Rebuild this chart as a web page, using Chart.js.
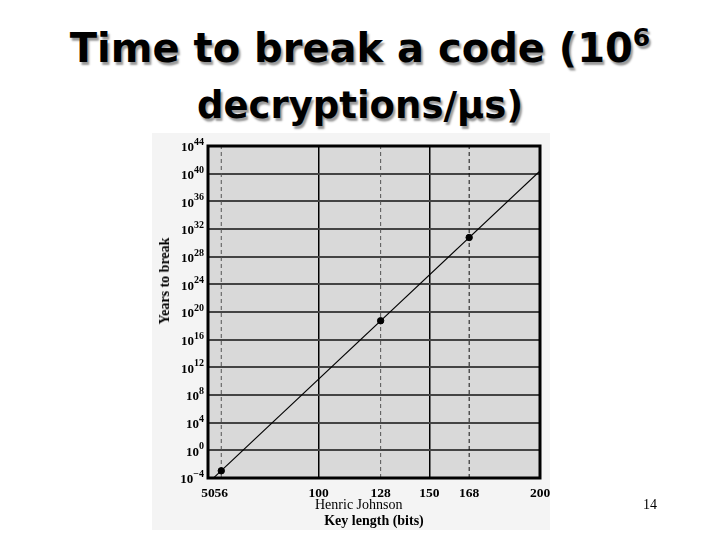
<!DOCTYPE html>
<html>
<head>
<meta charset="utf-8">
<script src="https://cdn.jsdelivr.net/npm/chart.js@4"></script>
<style>
  html, body { margin:0; padding:0; background:#ffffff; width:720px; height:540px; overflow:hidden; position:relative; }
  #title { position:absolute; left:0; top:20px; width:720px; text-align:center;
           font-family:"DejaVu Sans", sans-serif; font-weight:bold; font-size:40px; line-height:56px;
           color:#000; text-shadow:2px 3px 2px #999; }
  #title .l2 { font-size:37px; }
  #title sup { font-size:25px; position:relative; top:-2px; vertical-align:top; line-height:40px; }
  #panel { position:absolute; left:152px; top:133px; width:398px; height:397px; background:#f4f4f4; }
  #ytitle { position:absolute; left:165px; top:281px; transform:translate(-50%,-50%) rotate(-90deg);
            white-space:nowrap; font-family:"Liberation Serif", serif; font-weight:bold; font-size:14px; color:#000; }
  #author { position:absolute; left:315px; top:497px; font-family:"Liberation Serif", serif; font-size:14px; color:#000; }
  #page { position:absolute; left:643px; top:497px; font-family:"Liberation Serif", serif; font-size:14px; color:#000; }
</style>
</head>
<body>
<div id="title">Time to break a code (10<sup>6</sup><br><span class="l2">decryptions/µs)</span></div>
<div id="panel"><canvas id="c" width="398" height="397"></canvas></div>
<div id="ytitle">Years to break</div>
<div id="author">Henric Johnson</div>
<div id="page">14</div>
<script>
// ---- data ----
const keyLengths   = [56, 128, 168];            // marked key lengths (bits)
const yearsToBreak = [1.1e-3, 5.4e18, 5.9e30];  // years to break at 10^6 decryptions/µs
const lineBits     = [50, 200];                 // trend line end key lengths
const lineYears    = [1.8e-5, 2.5e40];          // trend line end values
const xTickValues  = [50, 56, 100, 128, 150, 168, 200];
const solidGridBits = [50, 100, 150, 200];
const yTickExponents = [-4, 0, 4, 8, 12, 16, 20, 24, 28, 32, 36, 40, 44];
const xTitle = "Key length (bits)";

const yMin = Math.pow(10, yTickExponents[0]);
const yMax = Math.pow(10, yTickExponents[yTickExponents.length - 1]);

const dashedDatasets = keyLengths.map((k, i) => ({
  type: 'line',
  data: [{x:k, y:yMin}, {x:k, y:yMax}],
  borderColor: i === 2 ? '#111' : '#555',
  borderWidth: 1,
  borderDash: [4, 3],
  pointRadius: 0,
  order: 3
}));

const SERIF = '"Liberation Serif", serif';

const areaPlugin = {
  id: 'area',
  beforeDraw(chart) {
    const {ctx, chartArea:a} = chart;
    ctx.save();
    ctx.fillStyle = '#d9d9d9';
    ctx.fillRect(a.left, a.top, a.right - a.left, a.bottom - a.top);
    ctx.restore();
  },
  afterDatasetsDraw(chart) {
    const {ctx, chartArea:a} = chart;
    ctx.save();
    ctx.strokeStyle = '#000';
    ctx.lineWidth = 3;
    ctx.strokeRect(a.left, a.top, a.right - a.left, a.bottom - a.top);
    ctx.restore();
  },
  afterDraw(chart) {
    // power-of-ten tick labels with real superscripts, placed by the y scale
    const {ctx, chartArea:a} = chart;
    const ys = chart.scales.y;
    ctx.save();
    ctx.fillStyle = '#000';
    yTickExponents.forEach(e => {
      const py = ys.getPixelForValue(Math.pow(10, e));
      const exp = String(e).replace('-', '\u2212');
      ctx.font = 'bold 10px ' + SERIF;
      const we = ctx.measureText(exp).width;
      ctx.font = 'bold 13px ' + SERIF;
      const wb = ctx.measureText('10').width;
      const right = a.left - 4;
      ctx.textBaseline = 'middle';
      ctx.textAlign = 'left';
      ctx.fillText('10', right - we - wb, py + 2);
      ctx.font = 'bold 10px ' + SERIF;
      ctx.textBaseline = 'alphabetic';
      ctx.fillText(exp, right - we, py - 1);
    });
    ctx.restore();
  }
};

new Chart(document.getElementById('c'), {
  type: 'scatter',
  data: {
    datasets: [
      {
        type: 'scatter',
        data: keyLengths.map((k, i) => ({x:k, y:yearsToBreak[i]})),
        backgroundColor: '#000',
        borderColor: '#000',
        pointRadius: 3.2,
        pointStyle: 'circle',
        order: 1
      },
      {
        type: 'line',
        data: lineBits.map((b, i) => ({x:b, y:lineYears[i]})),
        borderColor: '#000',
        borderWidth: 1.1,
        pointRadius: 0,
        order: 2
      },
      ...dashedDatasets
    ]
  },
  options: {
    responsive: false,
    animation: false,
    devicePixelRatio: 1,
    layout: { padding: { left: 0, right: 10, top: 13, bottom: 0 } },
    plugins: { legend: { display:false }, tooltip: { enabled:false }, title: { display:false } },
    scales: {
      x: {
        type: 'linear',
        min: xTickValues[0],
        max: xTickValues[xTickValues.length - 1],
        afterBuildTicks: s => { s.ticks = xTickValues.map(v => ({value:v})); },
        afterFit: s => { s.height = 52; s.paddingLeft = 0; s.paddingRight = 0; },
        ticks: {
          autoSkip: false, maxRotation: 0, minRotation: 0, padding: 7,
          color: '#000',
          font: { family: SERIF, weight: 'bold', size: 13.5 },
          callback: v => String(v)
        },
        grid: {
          color: c => (c.tick && solidGridBits.includes(c.tick.value)) ? '#000' : 'rgba(0,0,0,0)',
          lineWidth: 1.5,
          drawTicks: false
        },
        border: { display: false },
        title: {
          display: true, text: xTitle, color: '#000',
          font: { family: SERIF, weight: 'bold', size: 14 },
          padding: { top: 0, bottom: 0 }
        }
      },
      y: {
        type: 'logarithmic',
        min: yMin,
        max: yMax,
        afterBuildTicks: s => { s.ticks = yTickExponents.map(e => ({value: Math.pow(10, e)})); },
        afterFit: s => { s.width = 56; s.paddingTop = 0; s.paddingBottom = 0; },
        ticks: { display: false },
        grid: { color: '#444', lineWidth: 2, drawTicks: false },
        border: { display: false }
      }
    }
  },
  plugins: [areaPlugin]
});
</script>
</body>
</html>
